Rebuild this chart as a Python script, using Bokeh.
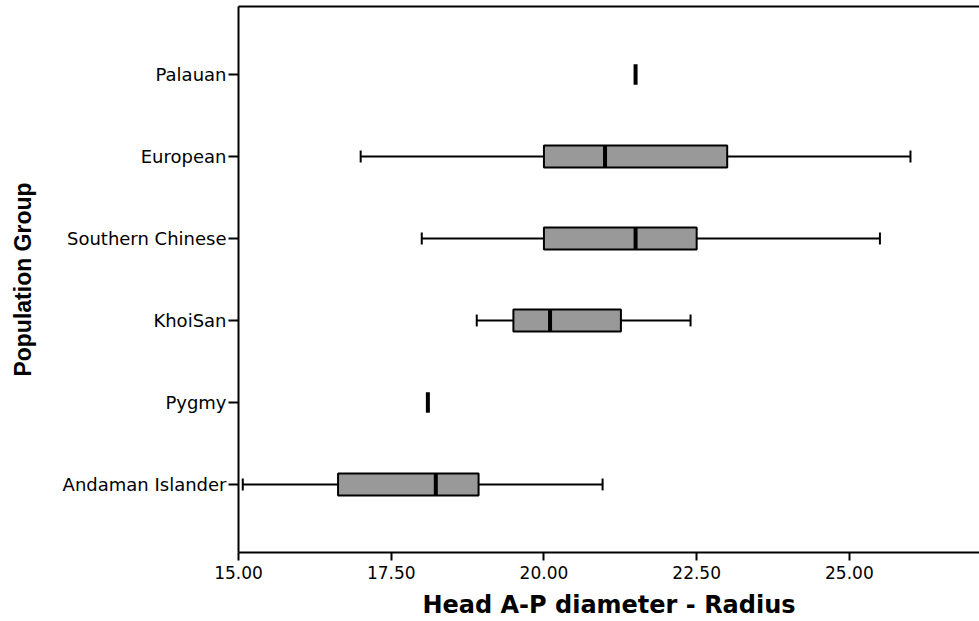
from bokeh.plotting import figure
from bokeh.models import (FactorRange, Range1d, LinearAxis, FixedTicker,
                          NumeralTickFormatter, ColumnDataSource)
from bokeh.embed import file_html
from bokeh.resources import INLINE

# ---- data ----
groups = ["Andaman Islander", "Pygmy", "KhoiSan", "Southern Chinese", "European", "Palauan"]
lower_whisker = [15.07, None, 18.9, 18.0, 17.0, None]
q1 = [16.63, None, 19.5, 20.0, 20.0, None]
median = [18.23, 18.1, 20.1, 21.5, 21.0, 21.5]
q3 = [18.93, None, 21.26, 22.5, 23.0, None]
upper_whisker = [20.96, None, 22.4, 25.5, 26.0, None]
x_ticks = [15.0, 17.5, 20.0, 22.5, 25.0]
x_title = "Head A-P diameter - Radius"
y_title = "Population Group"

BOX_H = 0.27
FILL = "#999999"

box_idx = [i for i in range(len(groups)) if q1[i] is not None]
box_src = ColumnDataSource(dict(
    g=[groups[i] for i in box_idx],
    lo=[lower_whisker[i] for i in box_idx],
    q1=[q1[i] for i in box_idx],
    q3=[q3[i] for i in box_idx],
    hi=[upper_whisker[i] for i in box_idx],
))
med_src = ColumnDataSource(dict(
    g=groups,
    m=median,
    h=[BOX_H if q1[i] is not None else 0.25 for i in range(len(groups))],
))

p = figure(width=979, height=621,
           y_range=FactorRange(factors=groups, range_padding=0.33,
                               range_padding_units="absolute"),
           x_range=Range1d(15.0, 27.13),
           output_backend="svg", toolbar_location=None,
           min_border_left=238, min_border_right=0,
           min_border_top=6, min_border_bottom=69)

p.outline_line_color = None
p.grid.visible = False
p.background_fill_color = "white"
p.border_fill_color = "white"

# whiskers
p.segment(x0="lo", y0="g", x1="q1", y1="g", source=box_src, line_color="black", line_width=2)
p.segment(x0="q3", y0="g", x1="hi", y1="g", source=box_src, line_color="black", line_width=2)
# caps
p.rect(x="lo", y="g", width=2, width_units="screen", height=0.145, source=box_src,
       fill_color="black", line_color=None)
p.rect(x="hi", y="g", width=2, width_units="screen", height=0.145, source=box_src,
       fill_color="black", line_color=None)
# boxes
p.hbar(y="g", left="q1", right="q3", height=BOX_H, source=box_src,
       fill_color=FILL, line_color="black", line_width=2)
# medians
p.rect(x="m", y="g", width=4, width_units="screen", height="h", source=med_src,
       fill_color="black", line_color=None)

TICK_FONT = "DejaVu Sans"

xa = p.xaxis[0]
xa.ticker = FixedTicker(ticks=x_ticks)
xa.formatter = NumeralTickFormatter(format="0.00")
xa.axis_line_width = 2
xa.major_tick_line_width = 2
xa.major_tick_out = 8
xa.major_tick_in = 0
xa.minor_tick_line_color = None
xa.major_label_text_font = TICK_FONT
xa.major_label_text_font_size = "17px"
xa.major_label_text_color = "black"
xa.major_label_standoff = 5
xa.axis_label = x_title
xa.axis_label_text_font = "DejaVu Sans"
xa.axis_label_text_font_style = "bold"
xa.axis_label_text_font_size = "24px"
xa.axis_label_text_color = "black"
xa.axis_label_standoff = 9

ya = p.yaxis[0]
ya.axis_line_width = 2
ya.major_tick_line_width = 2
ya.major_tick_out = 10
ya.major_tick_in = 0
ya.minor_tick_line_color = None
ya.major_label_text_font = TICK_FONT
ya.major_label_text_font_size = "18px"
ya.major_label_text_color = "black"
ya.major_label_standoff = 2
ya.axis_label = y_title
ya.axis_label_text_font = "Liberation Sans"
ya.axis_label_text_font_style = "bold"
ya.axis_label_text_font_size = "23px"
ya.axis_label_text_color = "black"
ya.axis_label_standoff = 24

# top border line
top = LinearAxis(axis_line_width=2, axis_line_color="black",
                 major_tick_line_color=None, minor_tick_line_color=None,
                 major_label_text_font_size="0px", major_label_standoff=0,
                 major_label_text_color=None)
p.add_layout(top, "above")

open("out.html", "w").write(file_html(p, INLINE))
